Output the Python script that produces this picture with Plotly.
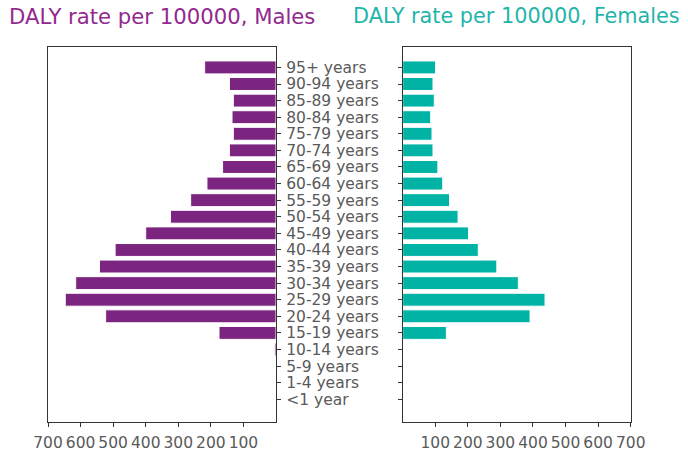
import plotly.graph_objects as go

age_groups = ["<1 year", "1-4 years", "5-9 years", "10-14 years", "15-19 years",
              "20-24 years", "25-29 years", "30-34 years", "35-39 years", "40-44 years",
              "45-49 years", "50-54 years", "55-59 years", "60-64 years", "65-69 years",
              "70-74 years", "75-79 years", "80-84 years", "85-89 years", "90-94 years",
              "95+ years"]
male_daly = [0, 0, 0, 5, 175, 523, 647, 615, 542, 494, 400, 324, 262, 212, 164,
             143, 131, 135, 131, 143, 219]
female_daly = [0, 0, 0, 0, 134, 391, 437, 355, 289, 232, 202, 170, 144, 123, 108,
               93, 90, 86, 97, 93, 101]
x_ticks = [100, 200, 300, 400, 500, 600, 700]

male_bar = "#7b2580"
female_bar = "#00b3a5"
male_title = "#93298f"
female_title = "#1fb5ab"
text_gray = "#5a5a5a"
font_family = "DejaVu Sans"

fig = go.Figure()
fig.add_trace(go.Bar(y=age_groups, x=male_daly, orientation="h",
                     marker=dict(color=male_bar, line=dict(color="white", width=1)),
                     width=0.78, xaxis="x", yaxis="y", showlegend=False))
fig.add_trace(go.Bar(y=age_groups, x=female_daly, orientation="h",
                     marker=dict(color=female_bar, line=dict(color="white", width=1)),
                     width=0.78, xaxis="x2", yaxis="y2", showlegend=False))

W, H = 688, 456
xl = [48 / W, 276 / W]
xr = [402.7 / W, 630.7 / W]
yd = [1 - 421.7 / H, 1 - 47 / H]
yrange = [-1.35, 20 + 1.23]

axis_common = dict(showline=True, linecolor="#333333", linewidth=1.2, mirror=True,
                   ticks="outside", ticklen=4, tickcolor="#333333", tickwidth=1.2,
                   showgrid=False, zeroline=False, automargin=False,
                   tickfont=dict(family=font_family, size=15.5, color=text_gray))

fig.update_layout(
    width=W, height=H,
    margin=dict(l=0, r=0, t=0, b=0),
    paper_bgcolor="white", plot_bgcolor="white",
    font=dict(family=font_family, color=text_gray),
    xaxis=dict(domain=xl, range=[700, 0], tickvals=x_ticks, anchor="y",
               ticklabelstandoff=3, **axis_common),
    yaxis=dict(domain=yd, range=yrange, side="right", anchor="x",
               tickmode="array", tickvals=age_groups, ticktext=age_groups,
               ticklabelstandoff=2,
               categoryorder="array", categoryarray=age_groups, **axis_common),
    xaxis2=dict(domain=xr, range=[0, 700], tickvals=x_ticks, anchor="y2",
                ticklabelstandoff=3, **axis_common),
    yaxis2=dict(domain=yd, range=yrange, side="left", anchor="x2", showticklabels=False,
                tickmode="array", tickvals=age_groups,
                categoryorder="array", categoryarray=age_groups, **axis_common),
    annotations=[
        dict(text="DALY rate per 100000, Males", x=162 / W, y=1 - 16 / H,
             xref="paper", yref="paper", xanchor="center", yanchor="middle",
             showarrow=False, font=dict(family=font_family, size=21.2, color=male_title)),
        dict(text="DALY rate per 100000, Females", x=516 / W, y=1 - 16 / H,
             xref="paper", yref="paper", xanchor="center", yanchor="middle",
             showarrow=False, font=dict(family=font_family, size=20.8, color=female_title)),
    ],
)

fig.write_html("out.html", config={"displayModeBar": False},
               post_script="document.body.style.margin='0';document.body.style.padding='0';")
